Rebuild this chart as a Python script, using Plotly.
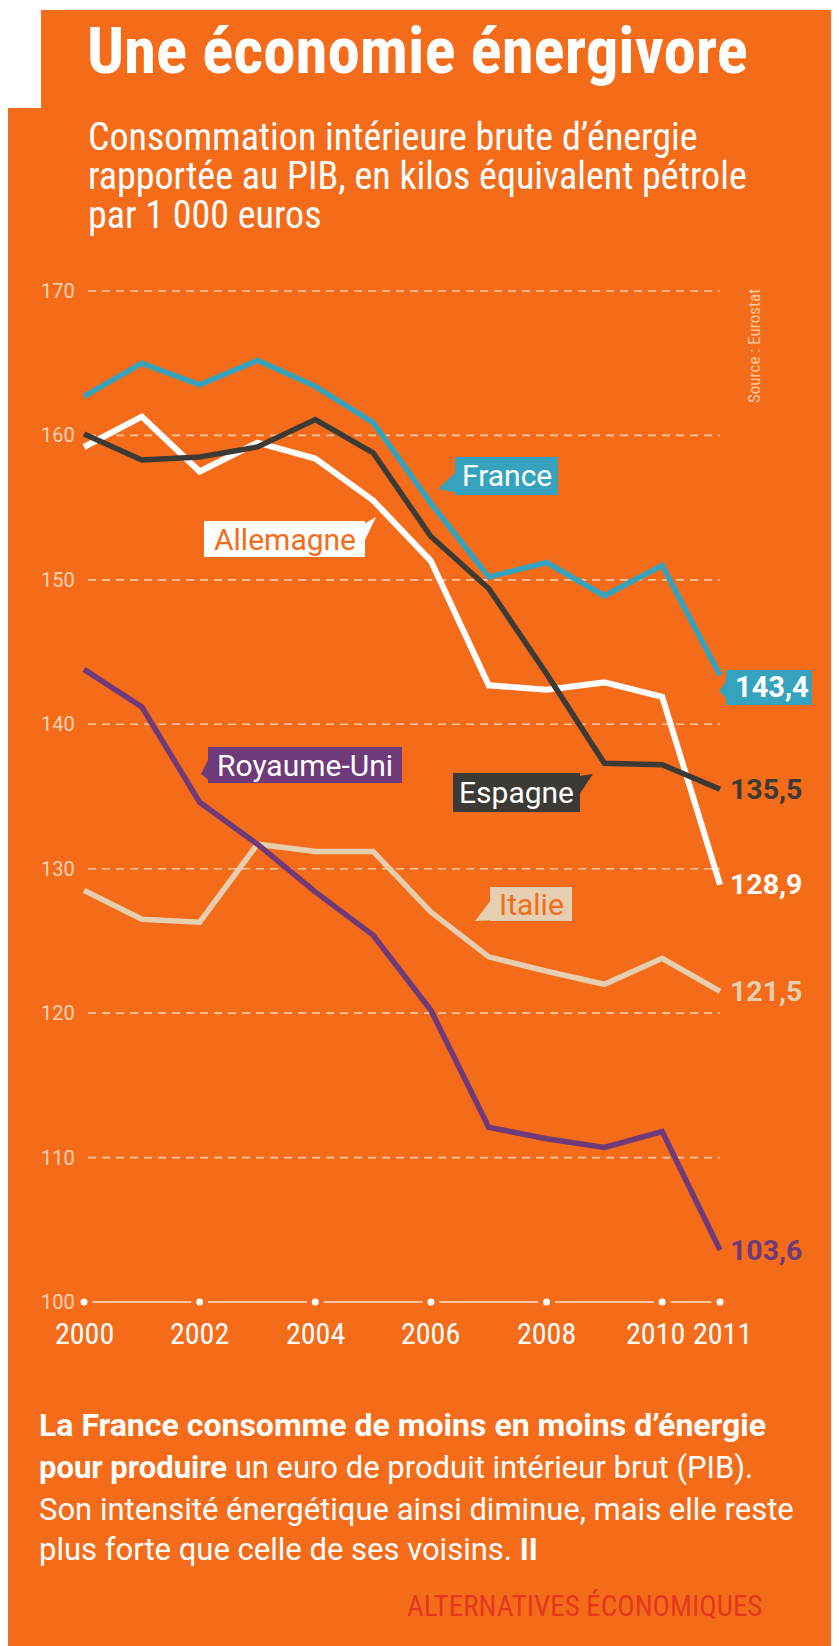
import plotly.graph_objects as go

# ---------------- data ----------------
years = [2000, 2001, 2002, 2003, 2004, 2005, 2006, 2007, 2008, 2009, 2010, 2011]
france = [162.7, 165.0, 163.5, 165.2, 163.4, 160.9, 155.3, 150.2, 151.2, 148.9, 151.0, 143.4]
allemagne = [159.2, 161.3, 157.5, 159.5, 158.4, 155.5, 151.3, 142.7, 142.4, 142.9, 141.9, 128.9]
espagne = [160.1, 158.3, 158.5, 159.2, 161.1, 158.8, 153.0, 149.4, 143.5, 137.3, 137.2, 135.5]
royaume_uni = [143.8, 141.2, 134.6, 131.7, 128.4, 125.4, 120.2, 112.1, 111.3, 110.7, 111.8, 103.6]
italie = [128.5, 126.5, 126.3, 131.7, 131.2, 131.2, 127.0, 123.9, 122.9, 122.0, 123.8, 121.5]

y_ticks = [110, 120, 130, 140, 150, 160, 170]
y_base = 100
x_ticks = [2000, 2002, 2004, 2006, 2008, 2010, 2011]
x_labels = ["2000", "2002", "2004", "2006", "2008", "2010", "2011"]

# ---------------- style ----------------
W, H = 839, 1646
OFF = 8  # page body margin
ORANGE = "#F46C1A"
C_FR = "#35A3BE"
C_DE = "#FFFFFF"
C_ES = "#3B3A35"
C_UK = "#6E3A79"
C_IT = "#E6CFB0"
GRID = "#F9C8A0"
TICK = "#FAD3B2"
COND = "Liberation Sans Narrow, Roboto Condensed, Arial Narrow, Roboto, sans-serif"
REG = "Roboto, Open Sans, sans-serif"


def px(x):  # page pixel -> paper
    return (x - OFF) / W


def py(y):
    return 1 - (y - OFF) / H


fig = go.Figure()

series = {
    "France": (france, C_FR, 5.5),
    "Allemagne": (allemagne, C_DE, 6),
    "Espagne": (espagne, C_ES, 5.5),
    "Italie": (italie, C_IT, 5.5),
    "Royaume-Uni": (royaume_uni, C_UK, 5.5),
}
for name in ["Italie", "Royaume-Uni", "Allemagne", "Espagne", "France"]:
    vals, col, lw = series[name]
    fig.add_trace(go.Scatter(x=years, y=vals, mode="lines", name=name,
                             line=dict(color=col, width=lw),
                             hoverinfo="skip", showlegend=False))

# base axis dots
fig.add_trace(go.Scatter(x=x_ticks, y=[y_base] * len(x_ticks), mode="markers",
                         marker=dict(color=ORANGE, size=17), hoverinfo="skip", showlegend=False))
fig.add_trace(go.Scatter(x=x_ticks, y=[y_base] * len(x_ticks), mode="markers",
                         marker=dict(color="#FFFFFF", size=7), hoverinfo="skip", showlegend=False))

shapes = []
# orange panel with notch (page body margin gives the white left/top strip)
shapes.append(dict(type="rect", xref="paper", yref="paper", x0=px(41), x1=1, y0=py(112), y1=py(10),
                   fillcolor=ORANGE, line=dict(width=0), layer="below"))
shapes.append(dict(type="rect", xref="paper", yref="paper", x0=px(8), x1=1, y0=0, y1=py(108),
                   fillcolor=ORANGE, line=dict(width=0), layer="below"))
# gridlines
for v in y_ticks:
    shapes.append(dict(type="line", xref="x", yref="y", x0=years[0] + 0.07, x1=years[-1], y0=v, y1=v,
                       line=dict(color=GRID, width=1.6, dash="8px,6px"), layer="below"))
shapes.append(dict(type="line", xref="x", yref="y", x0=years[0], x1=years[-1], y0=y_base, y1=y_base,
                   line=dict(color="#FCE6D2", width=1.6), layer="below"))


def poly(pts, color):
    d = "M " + " L ".join(f"{px(a):.5f},{py(b):.5f}" for a, b in pts) + " Z"
    return dict(type="path", xref="paper", yref="paper", path=d, fillcolor=color,
                line=dict(width=0), layer="above")


def box(x0, x1, y0, y1, color):
    return dict(type="rect", xref="paper", yref="paper", x0=px(x0), x1=px(x1), y0=py(y1), y1=py(y0),
                fillcolor=color, line=dict(width=0), layer="above")


annotations = []


def ann(text, x, y, size, color, xanchor="left", family=COND, **kw):
    a = dict(text=text, x=px(x), y=py(y), xref="paper", yref="paper", showarrow=False,
             xanchor=xanchor, yanchor="middle", font=dict(family=family, size=size, color=color),
             borderpad=0)
    a.update(kw)
    annotations.append(a)


# title and subtitle
ann("<b>Une économie énergivore</b>", 86, 51, 65, "#FFFFFF")
ann("Consommation intérieure brute d’énergie", 87, 137, 38, "#FFFFFF")
ann("rapportée au PIB, en kilos équivalent pétrole", 87, 176, 38, "#FFFFFF")
ann("par 1 000 euros", 87, 215, 38, "#FFFFFF")

# y tick labels
for v in y_ticks + [y_base]:
    annotations.append(dict(text=str(v), x=years[0], y=v, xref="x", yref="y", showarrow=False,
                            xanchor="right", yanchor="middle", xshift=-7,
                            font=dict(family=REG, size=20, color=TICK)))
# x tick labels
xsh = {2010: -7, 2011: 3}
for v, t in zip(x_ticks, x_labels):
    annotations.append(dict(text=t, x=v, y=y_base, xref="x", yref="y", showarrow=False,
                            xanchor="center", yanchor="middle", yshift=-31, xshift=xsh.get(v, 0),
                            font=dict(family=COND, size=30, color="#FFFFFF")))

# end labels
for name in ["France", "Allemagne", "Espagne", "Italie", "Royaume-Uni"]:
    vals, col, _ = series[name]
    lbl = f"{vals[-1]:.1f}".replace(".", ",")
    if name == "France":
        annotations.append(dict(text=f"<b>{lbl}</b>", x=years[-1], y=vals[-1], xref="x", yref="y",
                                showarrow=False, xanchor="left", yanchor="middle", xshift=13, yshift=-12,
                                font=dict(family=REG, size=29, color="#FFFFFF")))
    else:
        annotations.append(dict(text=f"<b>{lbl}</b>", x=years[-1], y=vals[-1], xref="x", yref="y",
                                showarrow=False, xanchor="left", yanchor="middle", xshift=8,
                                font=dict(family=REG, size=28.5, color=col)))
shapes.append(box(726, 812, 670, 705, C_FR))
shapes.append(poly([(727, 680), (719, 691), (727, 699)], C_FR))

# callout labels
callouts = [
    ("France", C_FR, "#FFFFFF", (455, 558, 457, 495), [(456, 472), (438, 489), (464, 494)]),
    ("Allemagne", "#FFFFFF", ORANGE, (204, 365, 521, 557), [(364, 524), (376, 517), (364, 542)]),
    ("Royaume-Uni", C_UK, "#FFFFFF", (208, 402, 747, 783), [(209, 758), (201, 774), (210, 781)]),
    ("Espagne", C_ES, "#FFFFFF", (453, 580, 773, 812), [(579, 776), (593, 774), (579, 795)]),
    ("Italie", C_IT, ORANGE, (490, 572, 887, 921), [(491, 900), (475, 921), (495, 920)]),
]
for text, bg, fg, (x0, x1, y0, y1), tail in callouts:
    shapes.append(box(x0, x1, y0, y1, bg))
    shapes.append(poly(tail, bg))
    ann(text, (x0 + x1) / 2, (y0 + y1) / 2, 30, fg, xanchor="center", family=REG)

# source
ann("Source : Eurostat", 754, 346, 17, GRID, xanchor="center", textangle=-90)

# paragraph
ann("<b>La France consomme de moins en moins d’énergie</b>", 38, 1425, 32, "#FFFFFF", family=REG)
ann("<b>pour produire</b> un euro de produit intérieur brut (PIB).", 38, 1467, 31, "#FFFFFF", family=REG)
ann("Son intensité énergétique ainsi diminue, mais elle reste", 38, 1509, 31, "#FFFFFF", family=REG)
ann("plus forte que celle de ses voisins. <b>II</b>", 38, 1549, 31, "#FFFFFF", family=REG)
ann("ALTERNATIVES ÉCONOMIQUES", 763, 1606, 29, "#E4381F", xanchor="right")

# axis geometry (page px): 2000 -> 84, 2011 -> 720 ; 170 -> 291, 100 -> 1302
x_rng = [1999.5, 2011.5]
y_rng = [98, 172]
fig.update_layout(
    width=W, height=H, margin=dict(l=0, r=0, t=0, b=0),
    paper_bgcolor="#FFFFFF", plot_bgcolor="rgba(0,0,0,0)",
    xaxis=dict(range=x_rng, domain=[px(55.1), px(748.9)], visible=False, fixedrange=True),
    yaxis=dict(range=y_rng, domain=[py(1330.9), py(262.1)], visible=False, fixedrange=True),
    shapes=shapes, annotations=annotations, showlegend=False,
)

fig.write_html("out.html")
